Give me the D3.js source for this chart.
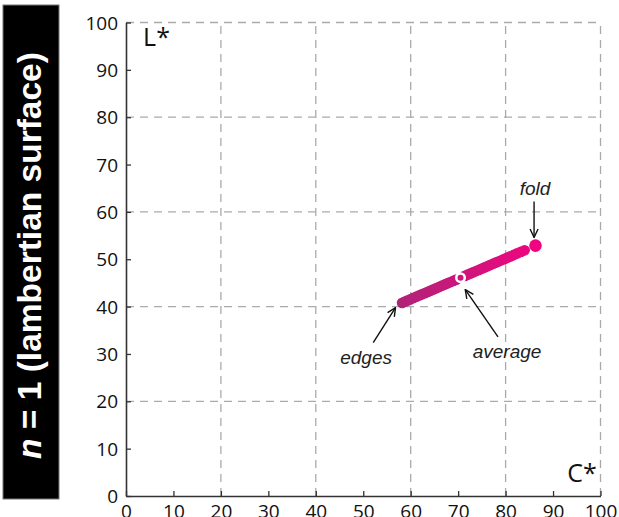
<!DOCTYPE html>
<html><head><meta charset="utf-8">
<script src="https://cdn.jsdelivr.net/npm/d3@7"></script>
<style>html,body{margin:0;padding:0;background:#fff;}svg{display:block;}</style>
</head><body>
<svg id="chart" width="619" height="517"></svg>
<script>
// ---- data ----
const xTicks = [0,10,20,30,40,50,60,70,80,90,100];
const yTicks = [0,10,20,30,40,50,60,70,80,90,100];
const gridValues = [20,40,60,80,100];
const chroma = [58.2,58.8,59.4,60.0,60.6,61.2,61.8,62.4,63.0,63.6,64.2,64.8,65.4,66.0,66.6,67.2,67.8,68.4,69.0,69.6,
  71.4,72.0,72.6,73.2,73.8,74.4,75.0,75.6,76.2,76.8,77.4,78.0,78.6,79.2,79.8,80.4,81.0,81.7,82.4,83.2,84.0,86.3];
const lightness = [40.80,41.06,41.32,41.57,41.83,42.09,42.35,42.61,42.86,43.12,43.38,43.64,43.90,44.15,44.41,44.67,44.93,45.19,45.44,45.70,
  46.48,46.73,46.99,47.25,47.51,47.77,48.02,48.28,48.54,48.80,49.06,49.31,49.57,49.83,50.09,50.35,50.60,50.90,51.21,51.55,51.89,52.88];
const averagePoint = {c:70.5, l:46.1};
const annotations = [
  {text:"fold",    tc:86.2, tl:63.6, from:[86.0,62.2], to:[86.0,54.6]},
  {text:"edges",   tc:50.6, tl:27.8, from:[52.1,32.4], to:[56.8,39.8]},
  {text:"average", tc:80.3, tl:29.2, from:[78.4,33.6], to:[71.5,43.6]}
];
const sideTitleItalic = "n";
const sideTitleRest = " = 1 (lambertian surface)";

// ---- chart ----
const svg = d3.select("#chart");
const x = d3.scaleLinear().domain([0,100]).range([126,600.5]);
const y = d3.scaleLinear().domain([0,100]).range([496,22.5]);
const color = d3.scaleLinear().domain([58,86.5]).range(["#b02478","#ef0580"]);

// side title box
svg.append("rect").attr("x",3).attr("y",5).attr("width",56).attr("height",494)
  .attr("fill","#000").attr("stroke","#777").attr("stroke-width",1);
const st = svg.append("text")
  .attr("transform","translate(41,255.5) rotate(-90)")
  .attr("text-anchor","middle")
  .attr("fill","#fff").attr("font-family","Liberation Sans, Arial, sans-serif")
  .attr("font-weight","bold").attr("font-size",33.5);
st.append("tspan").attr("font-style","italic").text(sideTitleItalic);
st.append("tspan").text(sideTitleRest);

// grid
const grid = svg.append("g").attr("stroke","#aaa").attr("stroke-width",1.3).attr("stroke-dasharray","8,6");
grid.selectAll("line.v").data(gridValues).join("line").attr("class","v")
  .attr("x1",d=>x(d)).attr("x2",d=>x(d)).attr("y1",y(0)).attr("y2",y(100));
grid.selectAll("line.h").data(gridValues).join("line").attr("class","h")
  .attr("y1",d=>y(d)).attr("y2",d=>y(d)).attr("x1",x(0)).attr("x2",x(100));

// axes
const axX = svg.append("g").attr("transform",`translate(0,${y(0)})`)
  .call(d3.axisBottom(x).tickValues(xTicks).tickSize(-5).tickPadding(12).tickSizeOuter(0));
const axY = svg.append("g").attr("transform",`translate(${x(0)},0)`)
  .call(d3.axisLeft(y).tickValues(yTicks).tickSize(-5).tickPadding(8).tickSizeOuter(0));
[axX,axY].forEach(a=>{
  a.select(".domain").attr("stroke","#333").attr("stroke-width",1.6);
  a.selectAll(".tick line").attr("stroke","#333").attr("stroke-width",1.3);
  a.selectAll(".tick text").attr("fill","#111").attr("font-family","Open Sans, sans-serif").attr("font-size",19);
});
axX.selectAll(".tick text").attr("dy",null).attr("y",22);
axY.selectAll(".tick text").attr("x",-8).attr("dy","0.35em");

// axis name labels
svg.append("text").attr("x",x(3.6)).attr("y",y(95.1)).attr("font-family","Open Sans, sans-serif")
  .attr("font-size",25).attr("fill","#111").text("L*");
svg.append("text").attr("x",x(99.2)).attr("y",y(3)).attr("text-anchor","end").attr("font-family","Open Sans, sans-serif")
  .attr("font-size",25).attr("fill","#111").text("C*");

// points
const pts = chroma.map((c,i)=>({c, l:lightness[i], last:i===chroma.length-1}));
svg.append("g").selectAll("circle").data(pts).join("circle")
  .attr("cx",d=>x(d.c)).attr("cy",d=>y(d.l)).attr("r",d=>d.last?6.3:5.4)
  .attr("fill",d=>color(d.c));
svg.append("circle").attr("cx",x(averagePoint.c)).attr("cy",y(averagePoint.l)).attr("r",5.5).attr("fill","#fff");
svg.append("circle").attr("cx",x(averagePoint.c)).attr("cy",y(averagePoint.l)).attr("r",3).attr("fill",color(averagePoint.c));

// annotations
svg.append("defs").append("marker").attr("id","arr").attr("viewBox","0 0 10 10")
  .attr("refX",9.5).attr("refY",5).attr("markerWidth",10).attr("markerHeight",10)
  .attr("markerUnits","userSpaceOnUse").attr("orient","auto")
  .append("path").attr("d","M1,1 L9.5,5 L1,9").attr("fill","none").attr("stroke","#111").attr("stroke-width",1.4);
const ann = svg.append("g");
annotations.forEach(a=>{
  ann.append("line").attr("x1",x(a.from[0])).attr("y1",y(a.from[1])).attr("x2",x(a.to[0])).attr("y2",y(a.to[1]))
    .attr("stroke","#111").attr("stroke-width",1.4).attr("marker-end","url(#arr)");
  ann.append("text").attr("x",x(a.tc)).attr("y",y(a.tl)).attr("text-anchor","middle")
    .attr("font-family","Liberation Sans, Arial, sans-serif").attr("font-style","italic")
    .attr("font-size",19).attr("fill","#222").text(a.text);
});
</script>
</body></html>
